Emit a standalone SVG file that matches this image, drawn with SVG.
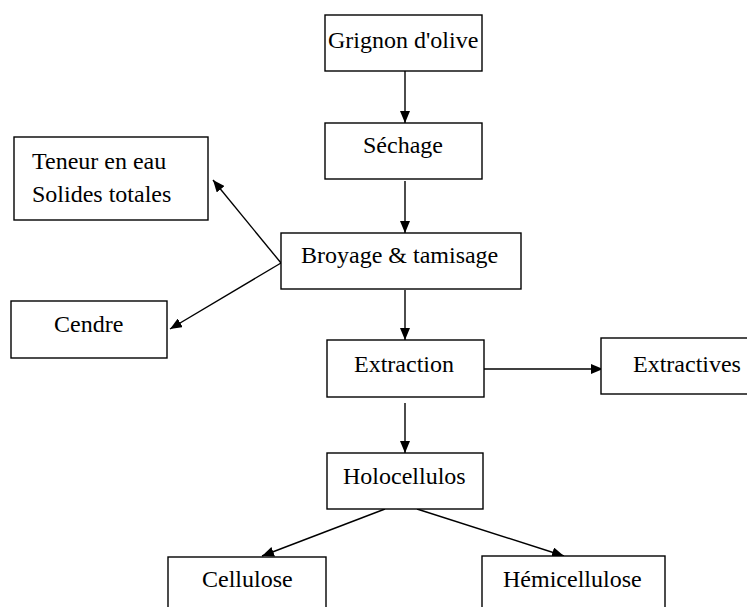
<svg xmlns="http://www.w3.org/2000/svg" width="747" height="607" viewBox="0 0 747 607">
<style>
rect{fill:#fff;stroke:#000;stroke-width:1.4}
text{font-family:"Liberation Serif","Times New Roman",serif;font-size:24px;fill:#000}
.c{stroke:#000;stroke-width:1.4;fill:none}
</style>
<defs>
<marker id="ah" viewBox="0 0 12 10" refX="12" refY="5" markerWidth="12" markerHeight="10" markerUnits="userSpaceOnUse" orient="auto">
<path d="M0,0 L12,5 L0,10 Z" fill="#000"/>
</marker>
</defs>
<rect x="0" y="0" width="747" height="607" style="stroke:none"/>
<g id="connectors">
<line class="c" x1="405" y1="71" x2="405" y2="123" marker-end="url(#ah)"/>
<line class="c" x1="405" y1="181" x2="405" y2="233" marker-end="url(#ah)"/>
<line class="c" x1="405" y1="290" x2="405" y2="340" marker-end="url(#ah)"/>
<line class="c" x1="281" y1="263" x2="213" y2="180" marker-end="url(#ah)"/>
<line class="c" x1="281" y1="263" x2="170" y2="329" marker-end="url(#ah)"/>
<line class="c" x1="484" y1="369" x2="603" y2="369" marker-end="url(#ah)"/>
<line class="c" x1="405" y1="403" x2="405" y2="453" marker-end="url(#ah)"/>
<line class="c" x1="385" y1="509" x2="262" y2="556" marker-end="url(#ah)"/>
<line class="c" x1="417" y1="509" x2="564" y2="556" marker-end="url(#ah)"/>
</g>
<g id="grignon"><rect x="325" y="15" width="157" height="56"/><text x="328" y="48">Grignon d'olive</text></g>
<g id="sechage"><rect x="325" y="123" width="157" height="56"/><text x="363" y="153">Séchage</text></g>
<g id="broyage"><rect x="281" y="233" width="240" height="56"/><text x="301" y="263">Broyage &amp; tamisage</text></g>
<g id="teneur"><rect x="14" y="137" width="194" height="83"/><text x="32" y="169">Teneur en eau</text><text x="32" y="202">Solides totales</text></g>
<g id="cendre"><rect x="11" y="301" width="156" height="57"/><text x="54" y="332">Cendre</text></g>
<g id="extraction"><rect x="327" y="340" width="157" height="57"/><text x="354" y="372">Extraction</text></g>
<g id="extractives"><rect x="601" y="338" width="160" height="56"/><text x="633" y="372">Extractives</text></g>
<g id="holocellulos"><rect x="327" y="453" width="156" height="56"/><text x="343" y="484">Holocellulos</text></g>
<g id="cellulose"><rect x="168" y="557" width="158" height="60"/><text x="202" y="587">Cellulose</text></g>
<g id="hemicellulose"><rect x="482" y="556" width="183" height="60"/><text x="503" y="587">Hémicellulose</text></g>
</svg>
